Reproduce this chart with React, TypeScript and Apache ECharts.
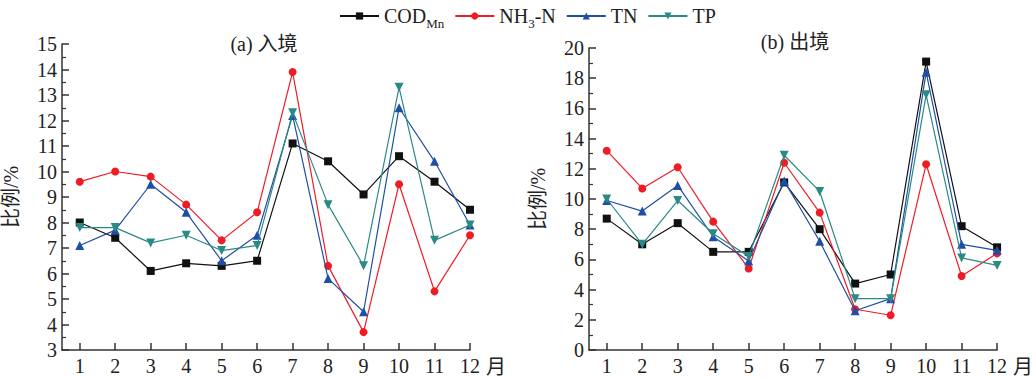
import React, { useEffect, useRef } from "react";
import * as echarts from "echarts";

const months = [1, 2, 3, 4, 5, 6, 7, 8, 9, 10, 11, 12];
const seriesNames = ["COD_Mn", "NH3-N", "TN", "TP"];

// (a) 入境
const inCOD = [8.0, 7.4, 6.1, 6.4, 6.3, 6.5, 11.1, 10.4, 9.1, 10.6, 9.6, 8.5];
const inNH3N = [9.6, 10.0, 9.8, 8.7, 7.3, 8.4, 13.9, 6.3, 3.7, 9.5, 5.3, 7.5];
const inTN = [7.1, 7.7, 9.5, 8.4, 6.5, 7.5, 12.2, 5.8, 4.5, 12.5, 10.4, 7.9];
const inTP = [7.8, 7.8, 7.2, 7.5, 6.9, 7.1, 12.3, 8.7, 6.3, 13.3, 7.3, 7.9];

// (b) 出境
const outCOD = [8.7, 7.0, 8.4, 6.5, 6.5, 11.1, 8.0, 4.4, 5.0, 19.1, 8.2, 6.8];
const outNH3N = [13.2, 10.7, 12.1, 8.5, 5.4, 12.4, 9.1, 2.7, 2.3, 12.3, 4.9, 6.4];
const outTN = [9.9, 9.2, 10.9, 7.5, 5.9, 11.2, 7.2, 2.6, 3.4, 18.4, 7.0, 6.6];
const outTP = [10.0, 7.0, 9.9, 7.7, 6.2, 12.9, 10.5, 3.4, 3.4, 16.9, 6.1, 5.6];

const titles = ["(a) 入境", "(b) 出境"];
const yName = "比例/%";
const xUnit = "月";

const colors = ["#111111", "#ee1c25", "#1f4fa5", "#2a8a86"];
const symbols = ["rect", "circle", "triangle", "path://M0,0 L10,0 L5,9 Z"];
const symbolSizes = [8, 8, 9, 9];

const FONT = "'Liberation Serif', 'Times New Roman', 'Noto Sans CJK SC', serif";
const TEXT = "#222222";

export default function App() {
  const ref = useRef<HTMLDivElement>(null);

  useEffect(() => {
    if (!ref.current) return;
    const chart = echarts.init(ref.current, undefined, { renderer: "svg" });

    const groups = [
      [inCOD, inNH3N, inTN, inTP],
      [outCOD, outNH3N, outTN, outTP],
    ];

    const series: any[] = [];
    groups.forEach((g, gi) => {
      g.forEach((vals, si) => {
        series.push({
          name: seriesNames[si],
          type: "line",
          xAxisIndex: gi,
          yAxisIndex: gi,
          data: months.map((m, i) => [m, vals[i]]),
          symbol: symbols[si],
          symbolSize: symbolSizes[si],
          showAllSymbol: true,
          z: 2 + si,
          lineStyle: { color: colors[si], width: 1.2 },
          itemStyle: { color: colors[si] },
        });
      });
    });

    const axisLine = { show: true, onZero: false, lineStyle: { color: "#333", width: 1.5 } };

    const xAxisBase = (gi: number) => ({
      type: "value",
      gridIndex: gi,
      min: 0.5,
      max: 12,
      axisLine,
      axisTick: { show: true, inside: true, length: 7, customValues: months, lineStyle: { color: "#333", width: 1.5 } },
      axisLabel: { customValues: months, fontSize: 20, fontFamily: FONT, color: TEXT, margin: 6 },
      splitLine: { show: false },
      name: xUnit,
      nameLocation: "end",
      nameGap: 14,
      nameTextStyle: { fontSize: 20, fontFamily: FONT, color: TEXT, verticalAlign: "top", lineHeight: 20, padding: [7, 0, 0, 0] },
    });

    const yAxisBase = (gi: number, min: number, max: number, interval: number) => ({
      type: "value",
      gridIndex: gi,
      min,
      max,
      interval,
      axisLine,
      axisTick: { show: true, inside: true, length: 7, lineStyle: { color: "#333", width: 1.5 } },
      minorTick: { show: true, splitNumber: 2, length: 4, lineStyle: { color: "#333", width: 1.2 } },
      axisLabel: { fontSize: 20, fontFamily: FONT, color: TEXT, margin: 5 },
      splitLine: { show: false },
      name: yName,
      nameLocation: "middle",
      nameGap: 41,
      nameRotate: 90,
      nameTextStyle: { fontSize: 20, fontFamily: FONT, color: TEXT },
    });

    const legendLabels: Record<string, string> = {
      "COD_Mn": "COD{s|Mn}",
      "NH3-N": "NH{s|3}-N",
      TN: "TN",
      TP: "TP",
    };

    chart.setOption({
      animation: false,
      backgroundColor: "#ffffff",
      legend: {
        data: seriesNames,
        left: 334,
        top: 1,
        itemWidth: 39,
        itemHeight: 9,
        itemGap: 10,
        textStyle: {
          fontSize: 20,
          fontFamily: FONT,
          color: TEXT,
          rich: { s: { fontSize: 13, fontFamily: FONT, color: TEXT, padding: [14, 0, 0, 0] } },
        },
        formatter: (name: string) => legendLabels[name] ?? name,
      },
      grid: [
        { left: 57.5, top: 44, width: 412.5, height: 306, containLabel: false },
        { left: 589, top: 48, width: 412, height: 302, containLabel: false },
      ],
      xAxis: [xAxisBase(0), xAxisBase(1)],
      yAxis: [yAxisBase(0, 3, 15, 1), yAxisBase(1, 0, 20, 2)],
      graphic: [
        { type: "text", x: 264, y: 44, style: { text: titles[0], fontSize: 20, fontFamily: FONT, fill: TEXT, textAlign: "center", textVerticalAlign: "middle" } },
        { type: "text", x: 795, y: 42, style: { text: titles[1], fontSize: 20, fontFamily: FONT, fill: TEXT, textAlign: "center", textVerticalAlign: "middle" } },
      ],
      series,
    });

    return () => chart.dispose();
  }, []);

  return <div ref={ref} style={{ width: 1036, height: 379, position: "absolute", left: 0, top: 0 }} />;
}
